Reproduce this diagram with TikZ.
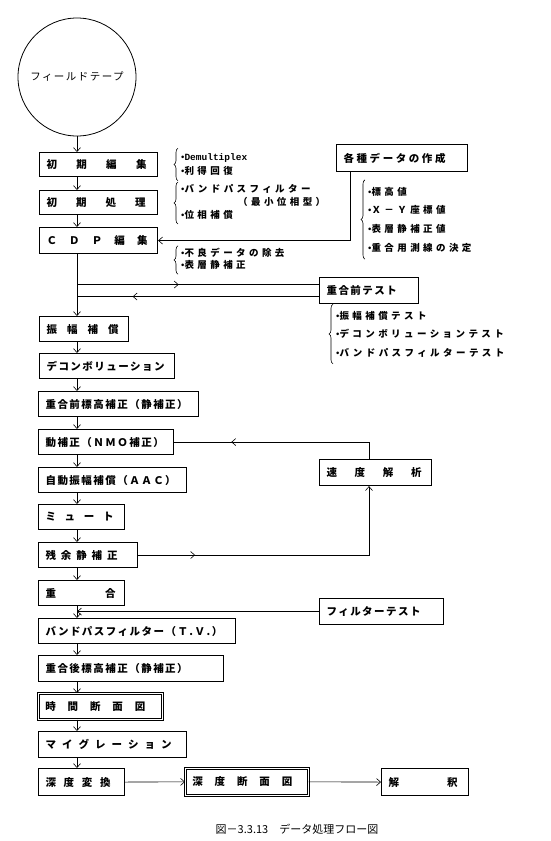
\documentclass[tikz,border=0pt]{standalone}
\usepackage{fontspec}
\usetikzlibrary{arrows.meta,calc,decorations.markings,decorations.pathreplacing}
\newfontfamily\jpbox{Noto Sans CJK JP}[LetterSpace=14]
\newfontfamily\jpnote{Noto Sans CJK JP}[LetterSpace=36]
\newfontfamily\jpcap{Noto Sans CJK JP}
\newfontfamily\latf{Liberation Sans}
\newfontfamily\monof{Liberation Mono}
\newcommand{\bul}{{\latf\mdseries •}}
\newcommand{\spread}[2]{\makebox[#1][s]{#2}}
\newcommand{\rows}[2]{{\renewcommand{\arraystretch}{#1}\begin{tabular}{@{}l@{}}#2\end{tabular}}}

\begin{document}
\begin{tikzpicture}[
    x=1pt, y=-1pt,
    proc/.style={draw, line width=1.1pt, anchor=north west, inner xsep=7pt, align=left, font=\fontsize{10.5}{12}\selectfont\jpbox\bfseries},
    result/.style={proc, double, line width=0.7pt, double distance=1.3pt},
    note/.style={anchor=west, inner xsep=0pt, inner ysep=2pt, font=\fontsize{9.5}{11.5}\selectfont\jpnote\bfseries},
    curly/.style={decorate, decoration={brace, amplitude=4pt}, line width=0.6pt},
    conn/.style={line width=0.6pt},
    arr/.style={conn, -{Straight Barb[length=4pt,width=7pt]}},
    midarr/.style={postaction={decorate}, decoration={markings, mark=at position #1 with {\arrow{Straight Barb[length=4pt,width=7pt]}}}}
]
\useasboundingbox (0,0) rectangle (551,841);

% main flow
\node[circle, draw, line width=0.8pt, minimum size=118pt, inner sep=0pt, font=\fontsize{10.5}{12}\selectfont\jpbox] (tape) at (77,77) {フィールドテープ};
\node[proc, text width=104pt, minimum height=24pt] (ini) at (39,152) {\spread{100pt}{初\hfill 期\hfill 編\hfill 集}};
\node[proc, text width=104pt, minimum height=24pt] (pre) at (39,190) {\spread{99pt}{初\hfill 期\hfill 処\hfill 理}};
\node[proc, text width=104pt, minimum height=26pt] (cdp) at (39,227) {\spread{101pt}{Ｃ\hfill Ｄ\hfill Ｐ\hfill 編\hfill 集}};
\node[proc, text width=75pt, minimum height=25pt] (amp) at (39,316) {\spread{72pt}{振\hfill 幅\hfill 補\hfill 償}};
\node[proc, text width=121pt, minimum height=25pt] (dec) at (39,353) {デコンボリューション};
\node[proc, text width=146pt, minimum height=25pt] (pst) at (38,391) {重合前標高補正（静補正）};
\node[proc, text width=121pt, minimum height=25pt] (nmo) at (38,429) {動補正（ＮＭＯ補正）};
\node[proc, text width=134pt, minimum height=25pt] (aac) at (38,467) {自動振幅補償（ＡＡＣ）};
\node[proc, text width=72pt, minimum height=25pt] (mut) at (38,504) {\spread{68pt}{ミ\hfill ュ\hfill ー\hfill ト}};
\node[proc, text width=85pt, minimum height=25pt] (res) at (38,542) {\spread{72pt}{残\hfill 余\hfill 静\hfill 補\hfill 正}};
\node[proc, text width=72pt, minimum height=25pt] (jug) at (38,580) {\spread{70pt}{重\hfill 合}};
\node[proc, text width=183pt, minimum height=25pt] (bpf) at (38,618) {バンドパスフィルター（Ｔ.Ｖ.）};
\node[proc, text width=171pt, minimum height=26pt] (pos) at (38,655) {重合後標高補正（静補正）};
\node[result, text width=110pt, minimum height=26pt] (tim) at (38,693) {\spread{100pt}{時\hfill 間\hfill 断\hfill 面\hfill 図}};
\node[proc, text width=134pt, minimum height=26pt] (mig) at (38,731) {\spread{126pt}{マ\hfill イ\hfill グ\hfill レ\hfill ー\hfill シ\hfill ョ\hfill ン}};
\node[proc, text width=72pt, minimum height=27pt] (dep) at (38,768) {\spread{65pt}{深\hfill 度\hfill 変\hfill 換}};
\node[result, text width=109pt, minimum height=27pt] (dsc) at (185,768) {\spread{100pt}{深\hfill 度\hfill 断\hfill 面\hfill 図}};
\node[proc, text width=73pt, minimum height=27pt] (itp) at (381,768) {\spread{69pt}{解\hfill 釈}};

% side boxes
\node[proc, text width=117pt, minimum height=27pt] (gks) at (336,144) {\spread{102pt}{各\hfill 種\hfill デ\hfill ー\hfill タ\hfill の\hfill 作\hfill 成}};
\node[proc, text width=85pt, minimum height=26pt] (tst) at (319,277) {重合前テスト};
\node[proc, text width=98pt, minimum height=26pt] (vel) at (319,459) {\spread{95pt}{速\hfill 度\hfill 解\hfill 析}};
\node[proc, text width=110pt, minimum height=26pt] (flt) at (319,598) {フィルターテスト};

% notes with braces
\node[note] (n1) at (181,164.5) {\rows{1.22}{\bul{\monof\bfseries Demultiplex}\\ \bul 利得回復}};
\node[note] (n2) at (181,203) {\rows{1.09}{\bul バンドパスフィルター\\ \hspace*{57pt}（最小位相型）\\ \bul 位相補償}};
\node[note] (n3) at (181,260) {\rows{1.05}{\bul 不良データの除去\\ \bul 表層静補正}};
\node[note] (n4) at (368,219.5) {\rows{1.63}{\bul 標高値\\ \bul Ｘ－Ｙ座標値\\ \bul 表層静補正値\\ \bul 重合用測線の決定}};
\node[note] (n5) at (336,334) {\rows{1.6}{\bul 振幅補償テスト\\ \bul デコンボリューションテスト\\ \bul バンドパスフィルターテスト}};
\foreach \n in {n1, n2, n3, n4, n5}
    \draw[curly] ($(\n.south west)+(-3,0)$) -- ($(\n.north west)+(-3,0)$);

\node[font=\fontsize{11}{13}\selectfont\jpcap] (cap) at (297,829) {図－3.3.13　データ処理フロー図};

% connectors
\foreach \a/\b in {tape/ini, ini/pre, pre/cdp, cdp/amp, amp/dec, dec/pst, pst/nmo, nmo/aac, aac/mut, mut/res, res/jug, jug/bpf, bpf/pos, pos/tim, tim/mig, mig/dep}
    \draw[arr] (\a.south -| tape) -- (\b.north -| tape);
\draw[arr] (dep.east) -- (dsc.west);
\draw[arr] (dsc.east) -- (itp.west);

\draw[arr] ($(gks.south west)+(14,0)$) |- (cdp.east);

\coordinate (tin) at ($(tst.west)+(0,-6)$);
\coordinate (tout) at ($(tst.west)+(0,6)$);
\draw[conn, midarr=0.42] (tin -| tape) -- (tin);
\draw[conn, midarr=0.77] (tout) -- (tout -| tape);

\coordinate (vx) at ($(vel.north west)+(50,0)$);
\draw[conn, midarr=0.73] (vx) |- (nmo.east);
\draw[arr, midarr=0.19] (res.east) -| (vel.south -| vx);

\draw[arr] (flt.west) -- (flt.west -| tape);
\end{tikzpicture}
\end{document}
